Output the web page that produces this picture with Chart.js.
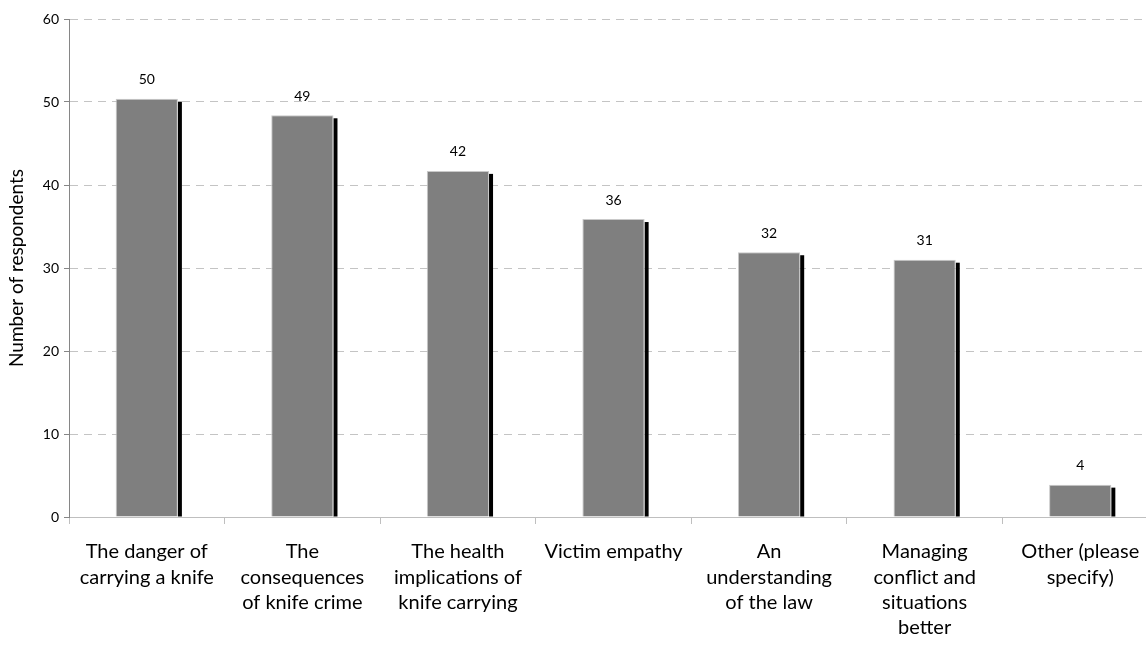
<!DOCTYPE html>
<html>
<head>
<meta charset="utf-8">
<script src="https://cdn.jsdelivr.net/npm/chart.js@4"></script>
<style>
  html, body { margin: 0; padding: 0; background: #fff; overflow: hidden; }
  #wrap { position: relative; width: 1158px; height: 648px; }
</style>
</head>
<body>
<div id="wrap"><canvas id="c"></canvas></div>
<script>
const categories = [
  ["The danger of", "carrying a knife"],
  ["The", "consequences", "of knife crime"],
  ["The health", "implications of", "knife carrying"],
  ["Victim empathy"],
  ["An", "understanding", "of the law"],
  ["Managing", "conflict and", "situations", "better"],
  ["Other (please", "specify)"]
];
const barValues = [50.4, 48.4, 41.7, 35.9, 31.9, 31.0, 3.9];
const valueLabels = ["50", "49", "42", "36", "32", "31", "4"];
const yTicks = [0, 10, 20, 30, 40, 50, 60];

const FONT = "Lato, 'Open Sans', sans-serif";

const shadowPlugin = {
  id: 'barShadow',
  beforeDatasetDraw(chart, args) {
    const ctx = chart.ctx;
    ctx.save();
    ctx.fillStyle = '#000000';
    args.meta.data.forEach(bar => {
      const p = bar.getProps(['x', 'y', 'base', 'width'], true);
      const right = p.x + p.width / 2;
      ctx.fillRect(right, p.y + 3, 4, p.base - p.y - 3);
    });
    ctx.restore();
  }
};

const labelPlugin = {
  id: 'valueLabels',
  afterDatasetsDraw(chart) {
    const ctx = chart.ctx;
    const meta = chart.getDatasetMeta(0);
    ctx.save();
    ctx.font = "14px " + FONT;
    ctx.fillStyle = '#000';
    ctx.textAlign = 'center';
    ctx.textBaseline = 'middle';
    meta.data.forEach((bar, i) => {
      const p = bar.getProps(['x', 'y'], true);
      ctx.fillText(valueLabels[i], p.x, p.y - 19);
    });
    ctx.restore();
  }
};

new Chart(document.getElementById('c'), {
  type: 'bar',
  data: {
    labels: categories,
    datasets: [{
      data: barValues,
      backgroundColor: '#7f7f7f',
      borderColor: '#c9c9c9',
      borderWidth: 1,
      barPercentage: 0.4,
      categoryPercentage: 1.0
    }]
  },
  options: {
    responsive: true,
    maintainAspectRatio: false,
    animation: false,
    devicePixelRatio: 1,
    layout: { padding: { top: 19, right: 0, left: 0, bottom: 0 } },
    plugins: { legend: { display: false }, tooltip: { enabled: false } },
    scales: {
      x: {
        grid: {
          display: true,
          offset: true,
          drawOnChartArea: false,
          drawTicks: true,
          tickLength: 7,
          color: '#bfbfbf'
        },
        border: { display: true, color: '#bfbfbf', width: 1 },
        ticks: {
          color: '#000',
          font: { family: FONT, size: 20, lineHeight: 1.27 },
          maxRotation: 0,
          autoSkip: false,
          padding: 15
        },
        afterFit(scale) { scale.height = 131; }
      },
      y: {
        min: 0,
        max: 60,
        afterBuildTicks(scale) { scale.ticks = yTicks.map(v => ({ value: v })); },
        grid: {
          color: '#c4c4c4',
          tickColor: '#868686',
          tickLength: 5,
          drawTicks: true
        },
        border: { display: true, color: '#868686', width: 1, dash: [8, 6] },
        ticks: {
          color: '#000',
          font: { family: FONT, size: 14 },
          padding: 5
        },
        title: {
          display: true,
          text: 'Number of respondents',
          color: '#000',
          font: { family: FONT, size: 19 },
          padding: { top: 5, bottom: 4 }
        },
        afterFit(scale) { scale.width = 69; }
      }
    }
  },
  plugins: [shadowPlugin, labelPlugin]
});
</script>
</body>
</html>
